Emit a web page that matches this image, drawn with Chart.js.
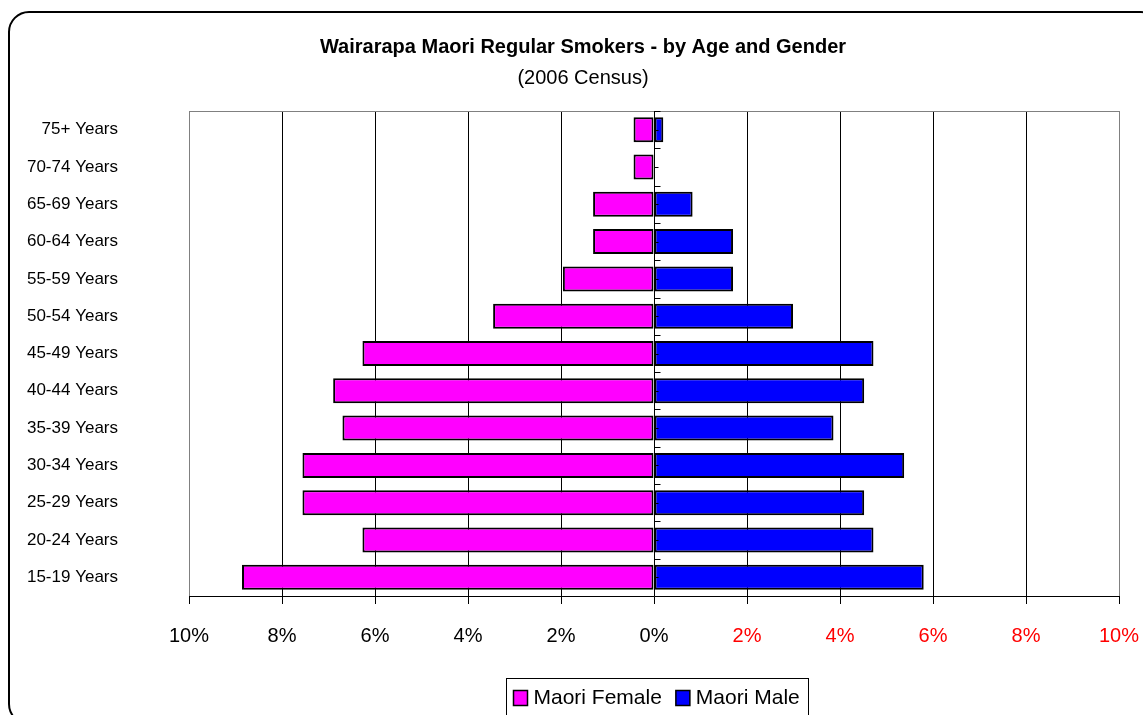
<!DOCTYPE html>
<html>
<head>
<meta charset="utf-8">
<title>Wairarapa Maori Regular Smokers</title>
<script src="https://cdn.jsdelivr.net/npm/chart.js@4/dist/chart.umd.min.js"></script>
<style>
    html, body { margin: 0; padding: 0; background: #fff; overflow: hidden; }
    #wrap { position: relative; width: 1166px; height: 730px; }
</style>
</head>
<body>
<div id="wrap"><canvas id="pyramid"></canvas></div>
<script>
// Age bands, top of the pyramid first
const ageGroups = ['75+ Years', '70-74 Years', '65-69 Years', '60-64 Years', '55-59 Years', '50-54 Years',
    '45-49 Years', '40-44 Years', '35-39 Years', '30-34 Years', '25-29 Years', '20-24 Years', '15-19 Years'];
// Share of regular smokers (%)
const femalePct = [0.44, 0.44, 1.31, 1.31, 1.96, 3.46, 6.27, 6.90, 6.70, 7.56, 7.56, 6.27, 8.86];
const malePct = [0.20, 0, 0.83, 1.70, 1.70, 2.99, 4.72, 4.52, 3.86, 5.38, 4.52, 4.72, 5.80];
const axisTicks = [-10, -8, -6, -4, -2, 0, 2, 4, 6, 8, 10];

const FONT = "'Liberation Sans', Arial, sans-serif";

// rounded frame round the whole chart
const framePlugin = {
    id: 'frame',
    beforeDraw(chart) {
        const ctx = chart.ctx;
        ctx.save();
        ctx.fillStyle = '#fff';
        ctx.fillRect(0, 0, chart.width, chart.height);
        const x = 9, y = 12, w = chart.width - 14, h = chart.height - 18, r = 20;
        ctx.beginPath();
        ctx.moveTo(x + r, y);
        ctx.lineTo(x + w - r, y);
        ctx.arcTo(x + w, y, x + w, y + r, r);
        ctx.lineTo(x + w, y + h - r);
        ctx.arcTo(x + w, y + h, x + w - r, y + h, r);
        ctx.lineTo(x + r, y + h);
        ctx.arcTo(x, y + h, x, y + h - r, r);
        ctx.lineTo(x, y + r);
        ctx.arcTo(x, y, x + r, y, r);
        ctx.closePath();
        ctx.lineWidth = 2;
        ctx.strokeStyle = '#000';
        ctx.stroke();
        ctx.restore();
    },
    // grey top edge of the plot area
    beforeDatasetsDraw(chart) {
        const a = chart.chartArea, ctx = chart.ctx;
        ctx.save();
        ctx.strokeStyle = '#808080';
        ctx.lineWidth = 1;
        ctx.beginPath();
        ctx.moveTo(a.left, a.top + 0.5);
        ctx.lineTo(a.right, a.top + 0.5);
        ctx.stroke();
        ctx.restore();
    }
};

// vertical zero axis with its little tick marks
const zeroAxisPlugin = {
    id: 'zeroAxis',
    afterDatasetsDraw(chart) {
        const ctx = chart.ctx, a = chart.chartArea;
        const x0 = Math.round(chart.scales.x.getPixelForValue(0)) + 0.5;
        const n = ageGroups.length;
        const step = (a.bottom - a.top) / n;
        ctx.save();
        ctx.strokeStyle = '#000';
        ctx.lineWidth = 1;
        ctx.beginPath();
        ctx.moveTo(x0, a.top);
        ctx.lineTo(x0, a.bottom);
        for (let i = 0; i <= n; i++) {
            const yb = Math.round(a.top + i * step) + 0.5;
            ctx.moveTo(x0, yb);
            ctx.lineTo(x0 + 6, yb);
            if (i < n) {
                const yc = Math.round(a.top + (i + 0.5) * step) + 0.5;
                ctx.moveTo(x0, yc);
                ctx.lineTo(x0 + 4, yc);
            }
        }
        ctx.stroke();
        ctx.restore();
    }
};

// boxed legend under the axis
const boxLegendPlugin = {
    id: 'boxLegend',
    afterDraw(chart) {
        const ctx = chart.ctx;
        const sets = chart.data.datasets;
        ctx.save();
        ctx.font = '21px ' + FONT;
        ctx.textBaseline = 'middle';
        const sw = 14, gap = 6, itemGap = 14;
        const widths = sets.map(d => sw + gap + ctx.measureText(d.label).width);
        const total = widths.reduce((s, w) => s + w, 0) + itemGap * (sets.length - 1);
        const padL = 7, padR = 9;
        const cx = chart.scales.x.getPixelForValue(0) + 3;
        const bx = Math.round(cx - (total + padL + padR) / 2) + 0.5;
        const by = 678.5;
        ctx.strokeStyle = '#000';
        ctx.lineWidth = 1;
        ctx.strokeRect(bx, by, Math.round(total + padL + padR), 50);
        let x = bx + padL;
        const yMid = 698;
        sets.forEach((d, i) => {
            ctx.fillStyle = d.backgroundColor;
            ctx.fillRect(x, yMid - 7.5, sw, 15);
            ctx.lineWidth = 1.5;
            ctx.strokeRect(x, yMid - 7.5, sw, 15);
            ctx.fillStyle = '#000';
            ctx.fillText(d.label, x + sw + gap, yMid);
            x += widths[i] + itemGap;
        });
        ctx.restore();
    }
};

const ctx = document.getElementById('pyramid').getContext('2d');
new Chart(ctx, {
    type: 'bar',
    data: {
        labels: ageGroups,
        datasets: [{
            label: 'Maori Female',
            data: femalePct.map(v => -v),
            backgroundColor: '#FF00FF',
            borderColor: '#000',
            borderWidth: 2,
            borderSkipped: false
        }, {
            label: 'Maori Male',
            data: malePct,
            backgroundColor: '#0000FF',
            borderColor: '#000',
            borderWidth: 2,
            borderSkipped: false
        }]
    },
    options: {
        indexAxis: 'y',
        responsive: true,
        maintainAspectRatio: false,
        animation: false,
        barPercentage: 0.67,
        categoryPercentage: 1,
        layout: { padding: { left: 0, right: 0, top: 0, bottom: 54 } },
        plugins: {
            legend: { display: false },
            tooltip: { enabled: false },
            title: {
                display: true,
                text: 'Wairarapa Maori Regular Smokers - by Age and Gender',
                color: '#000',
                font: { family: FONT, size: 20, weight: 'bold', lineHeight: 1.2 },
                padding: { top: 35, bottom: 7 }
            },
            subtitle: {
                display: true,
                text: '(2006 Census)',
                color: '#000',
                font: { family: FONT, size: 20, weight: 'normal', lineHeight: 1.2 },
                padding: { top: 0, bottom: 21 }
            }
        },
        scales: {
            x: {
                stacked: true,
                min: -10,
                max: 10,
                afterBuildTicks: scale => { scale.ticks = axisTicks.map(v => ({ value: v })); },
                afterFit: scale => { scale.height = 80; },
                ticks: {
                    callback: v => Math.abs(v) + '%',
                    color: c => c.tick && c.tick.value > 0 ? '#FF0000' : '#000',
                    font: { family: FONT, size: 20 },
                    padding: 20,
                    maxRotation: 0
                },
                grid: {
                    color: c => (c.tick && Math.abs(c.tick.value) === 10) ? '#808080' : '#000',
                    lineWidth: 1,
                    tickLength: 8,
                    tickColor: '#000'
                },
                border: { display: true, color: '#000', width: 1 }
            },
            y: {
                stacked: true,
                afterFit: scale => { scale.width = 189; },
                ticks: {
                    color: '#000',
                    font: { family: FONT, size: 17 },
                    padding: 71
                },
                grid: { display: false, drawTicks: false },
                border: { display: false }
            },
            // empty strip on the right so the plot stops short of the frame
            yGap: {
                type: 'linear',
                position: 'right',
                min: 0,
                max: 1,
                afterFit: scale => { scale.width = 47; },
                ticks: { display: false },
                grid: { display: false, drawTicks: false },
                border: { display: false }
            }
        }
    },
    plugins: [framePlugin, zeroAxisPlugin, boxLegendPlugin]
});
</script>
</body>
</html>
